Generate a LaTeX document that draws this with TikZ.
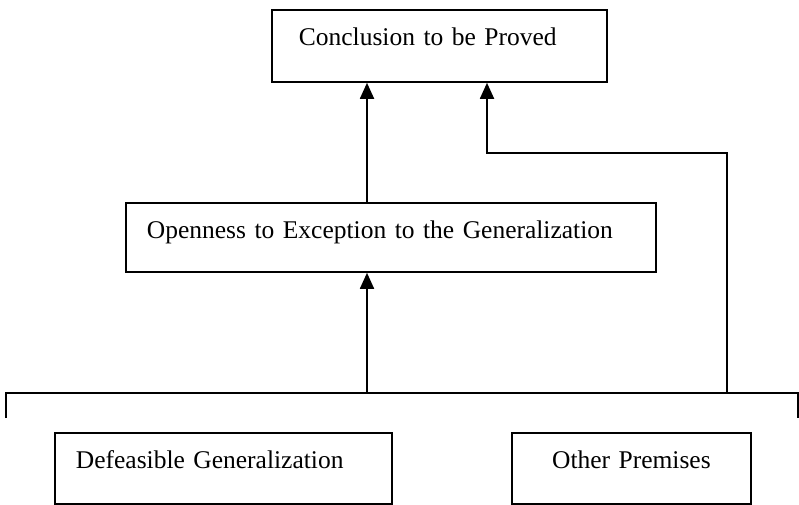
\documentclass[tikz,border=0pt]{standalone}
\usepackage{fontspec}
\setmainfont{Liberation Serif}
\usetikzlibrary{arrows.meta}
\tikzset{>={Triangle[length=16pt,width=14pt]}}
\tikzset{box/.style={draw, line width=1.8pt, anchor=north west, inner ysep=0pt,
    text height=36pt, font=\fontsize{25.5}{30}\selectfont}}

\begin{document}
\begin{tikzpicture}[x=1pt, y=1pt, line width=1.8pt]
\useasboundingbox (0,0) rectangle (799,-504);
\node[box, inner xsep=27pt, text width=281pt, text depth=36pt, align=left] (concl) at (271,-9) {Conclusion to be Proved};
\node[box, inner xsep=21pt, text width=488pt, text depth=33pt, align=left] (open) at (125,-202) {Openness to Exception to the Generalization};
\node[box, inner xsep=21pt, text width=295pt, text depth=35pt, align=left] (defeas) at (54,-432) {Defeasible Generalization};
\node[box, inner xsep=0pt, text width=239pt, text depth=35pt, align=center] (other) at (511,-432) {Other Premises};
% bracket over the premises
\coordinate (brL) at (6,-418);
\coordinate (brR) at (798,-418);
\coordinate (forkA) at (367,-393);
\coordinate (forkB) at (727,-393);
\coordinate (bend) at (487,-153);
\draw (brL) -- ++(0,25) -| (brR);
\draw[->] (forkA) -- (forkA |- open.south);
\draw[->] (forkA |- open.north) -- (forkA |- concl.south);
\draw[->] (forkB) |- (bend) -- (bend |- concl.south);
\end{tikzpicture}
\end{document}
